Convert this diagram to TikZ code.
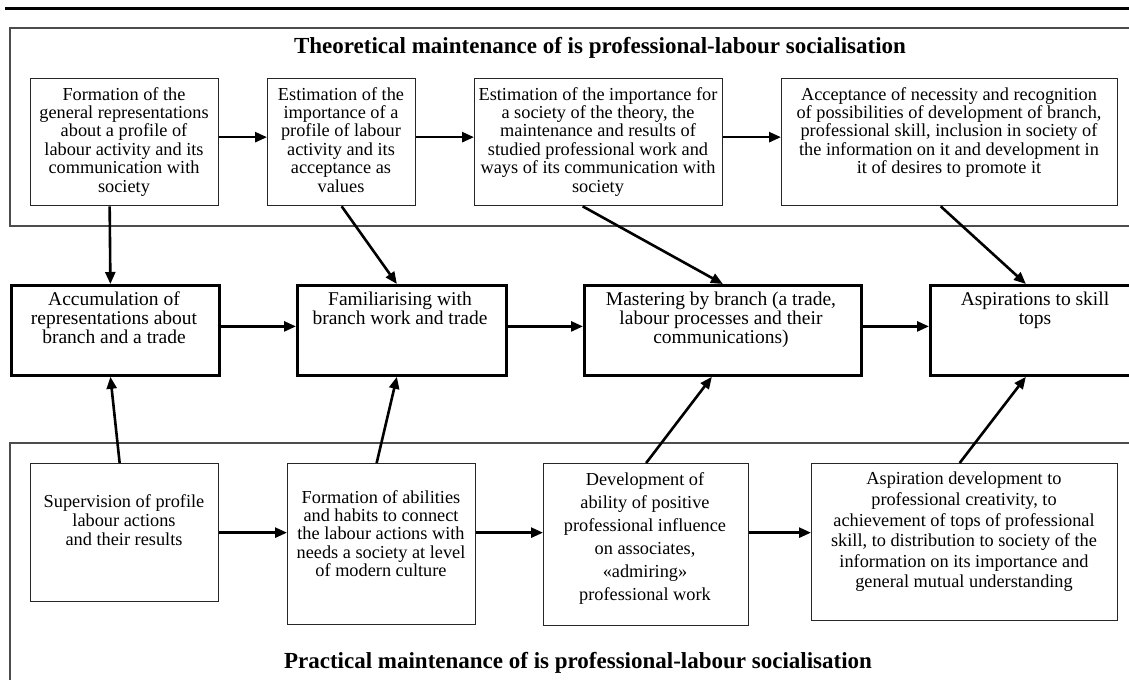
\documentclass[tikz,border=0pt]{standalone}
\usepackage{fontspec}
\setmainfont{Liberation Serif}
\usetikzlibrary{arrows.meta}
\begin{document}
\begin{tikzpicture}[x=1pt,y=-1pt,
 thinbox/.style={draw=black!85, line width=1.3pt, inner sep=0pt, anchor=north west},
 thickbox/.style={draw=black, line width=2.8pt, inner sep=0pt, anchor=north west},
 btxt/.style={align=center, inner sep=0pt, anchor=north, font=\fontsize{18.3}{18.4}\selectfont},
 mtxt/.style={align=center, inner sep=0pt, anchor=north, font=\fontsize{19.5}{19}\selectfont},
 arr/.style={line width=2.6pt, -{Triangle[length=12pt,width=10pt]}},
 frame/.style={draw=black!70, line width=1.4pt},
 ttl/.style={font=\bfseries\fontsize{23}{25}\selectfont, inner sep=0pt}]
\useasboundingbox (0,0) rectangle (1129,680);
% top rule
\draw[line width=3pt] (5,8) -- (1129,8);
% frames
\draw[frame] (1129,28) -- (10,28) -- (10,226) -- (1129,226);
\draw[frame] (1129,443) -- (10,443) -- (10,680);
\node[ttl] (title1) at (600,48) {Theoretical maintenance of is professional-labour socialisation};
\node[ttl] (title2) at (578,663) {Practical maintenance of is professional-labour socialisation};
% top boxes
\node[thinbox, minimum width=188, minimum height=127] (t1) at (30,78) {};
\node[thinbox, minimum width=148, minimum height=127] (t2) at (267,78) {};
\node[thinbox, minimum width=248, minimum height=127] (t3) at (474,78) {};
\node[thinbox, minimum width=336, minimum height=127] (t4) at (781,78) {};
\node[btxt] (t1x) at (124,87) {Formation of the\\general representations\\about a profile of\\labour activity and its\\communication with\\society};
\node[btxt] (t2x) at (341,87) {Estimation of the\\importance of a\\profile of labour\\activity and its\\acceptance as\\values};
\node[btxt] (t3x) at (598,87) {Estimation of the importance for\\a society of the theory, the\\maintenance and results of\\studied professional work and\\ways of its communication with\\society};
\node[btxt] (t4x) at (949,87) {Acceptance of necessity and recognition\\of possibilities of development of branch,\\professional skill, inclusion in society of\\the information on it and development in\\it of desires to promote it};
% middle boxes
\node[thickbox, minimum width=208, minimum height=90] (m1) at (10,284) {};
\node[thickbox, minimum width=209, minimum height=90] (m2) at (296,284) {};
\node[thickbox, minimum width=277, minimum height=90] (m3) at (583,284) {};
\node[thickbox, minimum width=215, minimum height=90] (m4) at (929,284) {};
\node[mtxt] (m1x) at (114,292) {Accumulation of\\representations about\\branch and a trade};
\node[mtxt] (m2x) at (400,292) {Familiarising with\\branch work and trade};
\node[mtxt] (m3x) at (721,292) {Mastering by branch (a trade,\\labour processes and their\\communications)};
\node[mtxt] (m4x) at (1035,292) {Aspirations to skill\\tops};
% bottom boxes
\node[thinbox, minimum width=188, minimum height=138] (b1) at (30,463) {};
\node[thinbox, minimum width=188, minimum height=161] (b2) at (287,463) {};
\node[thinbox, minimum width=205, minimum height=162] (b3) at (543,463) {};
\node[thinbox, minimum width=306, minimum height=157] (b4) at (811,463) {};
\node[btxt, font=\fontsize{18.3}{19}\selectfont] (b1x) at (124,494) {Supervision of profile\\labour actions\\and their results};
\node[btxt] (b2x) at (381,490) {Formation of abilities\\and habits to connect\\the labour actions with\\needs a society at level\\of modern culture};
\node[btxt, font=\fontsize{18.3}{23}\selectfont] (b3x) at (645,472) {Development of\\ability of positive\\professional influence\\on associates,\\«admiring»\\professional work};
\node[btxt, font=\fontsize{18.3}{20.6}\selectfont] (b4x) at (964,472) {Aspiration development to\\professional creativity, to\\achievement of tops of professional\\skill, to distribution to society of the\\information on its importance and\\general mutual understanding};
% arrows top row
\draw[arr] ([yshift=5]t1.east) -- ([yshift=5]t1.east -| t2.west);
\draw[arr] ([yshift=5]t2.east) -- ([yshift=5]t2.east -| t3.west);
\draw[arr] ([yshift=5]t3.east) -- ([yshift=5]t3.east -| t4.west);
% arrows middle row
\draw[arr] ([yshift=4]m1.east) -- ([yshift=4]m1.east -| m2.west);
\draw[arr] ([yshift=4]m2.east) -- ([yshift=4]m2.east -| m3.west);
\draw[arr] ([yshift=4]m3.east) -- ([yshift=4]m3.east -| m4.west);
% arrows bottom row
\draw[arr] (b1.east) -- (b1.east -| b2.west);
\draw[arr] (b1.east -| b2.east) -- (b1.east -| b3.west);
\draw[arr] (b1.east -| b3.east) -- (b1.east -| b4.west);
% top to middle
\draw[arr] ([xshift=-15]t1.south) -- ([xshift=-5]m1.north);
\draw[arr] (t2.south) -- ([xshift=-5]m2.north);
\draw[arr] ([xshift=-16]t3.south) -- (m3.north);
\draw[arr] ([xshift=-9]t4.south) -- ([xshift=-12]m4.north);
% bottom to middle
\draw[arr] ([xshift=-5]b1.north) -- ([xshift=-5]m1.south);
\draw[arr] ([xshift=-5]b2.north) -- ([xshift=-5]m2.south);
\draw[arr] (b3.north) -- ([xshift=-11]m3.south);
\draw[arr] ([xshift=-5]b4.north) -- ([xshift=-12]m4.south);
\end{tikzpicture}
\end{document}
